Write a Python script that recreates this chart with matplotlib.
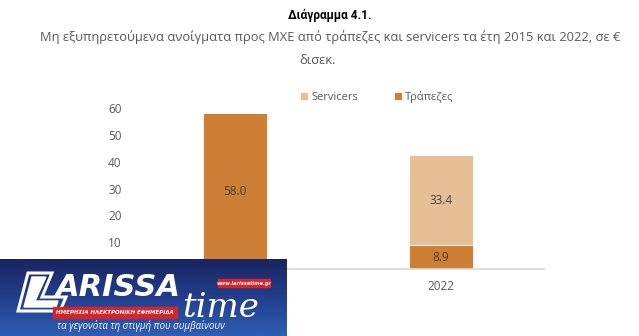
import numpy as np
import matplotlib
matplotlib.use("Agg")
import matplotlib.pyplot as plt
from matplotlib.patches import Rectangle, Polygon
from matplotlib.colors import LinearSegmentedColormap

plt.rcParams['font.family'] = ['Open Sans', 'DejaVu Sans']

# Data (€ billion)
years = ["2015", "2022"]
banks = [58.0, 8.9]
servicers = [0.0, 33.4]
yticks = [0, 10, 20, 30, 40, 50, 60]

BANK_C = "#CD7F35"
SERV_C = "#E6BF97"
W, H = 639, 336

fig = plt.figure(figsize=(W / 100, H / 100), dpi=100)
ax = fig.add_axes([132 / W, (H - 269) / H, (544 - 132) / W, (269 - 108) / H])

x = np.arange(len(years))
bw = 0.31
b1 = ax.bar(x, banks, bw, color=BANK_C, edgecolor="white", linewidth=0.6, label="Τράπεζες")
b2 = ax.bar(x, servicers, bw, bottom=banks, color=SERV_C, edgecolor="white", linewidth=0.6, label="Servicers")

for rect, v in zip(b1, banks):
    if v > 0:
        ax.text(rect.get_x() + rect.get_width() / 2, rect.get_y() + v / 2, f"{v:.1f}",
                ha="center", va="center", fontsize=8.5, color="#404040")
for rect, v, b in zip(b2, servicers, banks):
    if v > 0:
        ax.text(rect.get_x() + rect.get_width() / 2, b + v / 2, f"{v:.1f}",
                ha="center", va="center", fontsize=8.5, color="#404040")

ax.set_xlim(-0.5, 1.5)
ax.set_ylim(0, 60)
ax.set_yticks(yticks)
ax.set_xticks(x)
ax.set_xticklabels(years)
for s in ["top", "right", "left"]:
    ax.spines[s].set_visible(False)
ax.spines["bottom"].set_color("#D9D9D9")
ax.spines["bottom"].set_linewidth(1.2)
ax.tick_params(axis="both", length=0, labelsize=8.5, labelcolor="#595959")
ax.tick_params(axis="y", pad=7.5)
ax.tick_params(axis="x", pad=8)

handles = [b2, b1]
fig.legend(handles, ["Servicers", "Τράπεζες"], loc="center", bbox_to_anchor=(377 / W, 1 - 97 / H),
           ncol=2, frameon=False, fontsize=8, handlelength=0.7, handleheight=0.7,
           handletextpad=0.3, columnspacing=3.2, labelcolor="#595959")

fig.text(330 / W, 1 - 15 / H, "Διάγραμμα 4.1.", ha="center", va="center",
         fontsize=8.6, fontweight="bold", color="black", family=["Roboto", "DejaVu Sans"])
fig.text(330 / W, 1 - 37 / H,
         "Μη εξυπηρετούμενα ανοίγματα προς ΜΧΕ από τράπεζες και servicers τα έτη 2015 και 2022, σε €",
         ha="center", va="center", fontsize=9.3, color="#595959")
fig.text(318 / W, 1 - 60 / H, "δισεκ.", ha="center", va="center", fontsize=9.3, color="#595959")

# Newspaper banner in the lower-left corner
lx0, ly0, lw, lh = 0, 259, 287, 77
lax = fig.add_axes([lx0 / W, (H - ly0 - lh) / H, lw / W, lh / H])
lax.set_xlim(0, lw)
lax.set_ylim(lh, 0)
lax.axis("off")

# labels of the axes that sit under the banner stay hidden
banner_box = lax.get_position()
fig.canvas.draw()
inv = fig.transFigure.inverted()
for lab in ax.get_xticklabels() + ax.get_yticklabels():
    bb = lab.get_window_extent().transformed(inv)
    if bb.overlaps(banner_box):
        lab.set_visible(False)

grad = LinearSegmentedColormap.from_list("g", ["#1A2560", "#233F8C", "#2E5DB3"])
lax.imshow(np.linspace(0, 1, 64).reshape(-1, 1), cmap=grad, aspect="auto",
           extent=[0, lw, lh, 0], zorder=0)
# outlined "L"
lax.add_patch(Polygon([[28, 14], [52, 14], [42, 38], [66, 38], [60, 52], [18, 52]],
                      closed=True, fill=False, edgecolor="white", linewidth=2.2, zorder=2))
lax.add_patch(Polygon([[32, 18], [46, 18], [35, 42], [58, 42], [56, 48], [24, 48]],
                      closed=True, color="white", zorder=2))
lax.text(56, 28, "ARISSA", fontsize=22, fontweight="bold", fontstyle="italic",
         color="white", va="center", ha="left", family="DejaVu Sans", zorder=3)
lax.add_patch(Rectangle((53, 48), 124, 11, color="#D7232A", zorder=2))
lax.text(115, 53.5, "ΗΜΕΡΗΣΙΑ ΗΛΕΚΤΡΟΝΙΚΗ ΕΦΗΜΕΡΙΔΑ", fontsize=4.0, fontweight="bold",
         fontstyle="italic", color="white", ha="center", va="center", family="DejaVu Sans", zorder=3)
lax.text(182, 58, "time", fontsize=24.5, fontstyle="italic", color="white", ha="left",
         va="baseline", family="DejaVu Serif", zorder=3)
lax.add_patch(Rectangle((218, 20), 52, 8, color="#D7232A", zorder=2))
lax.text(244, 24, "www.larissatime.gr", fontsize=3.6, fontweight="bold", fontstyle="italic",
         color="white", ha="center", va="center", family="DejaVu Sans", zorder=3)
lax.text(141, 67, "τα γεγονότα τη στιγμή που συμβαίνουν", fontsize=7, fontstyle="italic",
         color="white", ha="center", va="center", zorder=3)

fig.savefig("out.png", dpi=100)
